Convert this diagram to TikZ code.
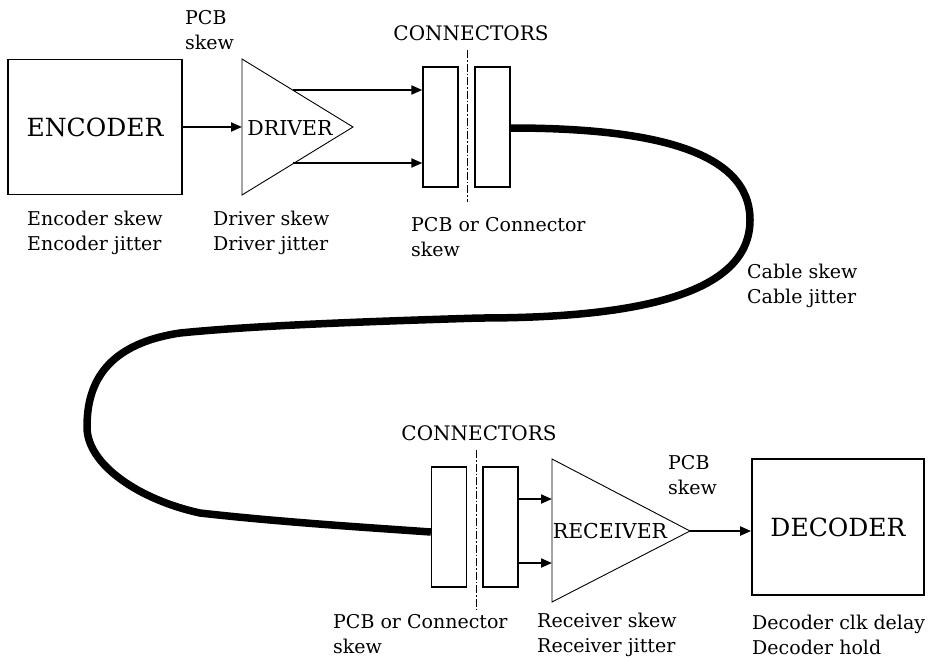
\documentclass[tikz,border=0pt]{standalone}
\usepackage{fontspec}
\setmainfont{DejaVu Serif}
\usetikzlibrary{arrows.meta}
\begin{document}
\begin{tikzpicture}[x=1pt,y=-1pt,
  blk/.style={draw,line width=1.8pt,inner sep=0pt,font=\fontsize{25}{28}\selectfont},
  conbox/.style={draw,line width=1.3pt,inner sep=0pt,minimum width=35pt,minimum height=120pt},
  amp/.style={draw,line width=0.9pt},
  arr/.style={line width=2pt,-{Triangle[length=11pt,width=9pt]}},
  axisline/.style={line width=0.8pt,dash pattern=on 8pt off 2pt on 1.5pt off 2pt},
  cable/.style={line width=7.5pt},
  lbl/.style={inner sep=0pt,align=left,anchor=west,font=\fontsize{19}{25}\selectfont},
  hdr/.style={inner sep=0pt,font=\fontsize{20}{24}\selectfont},
  big/.style={inner sep=0pt,font=\fontsize{20.5}{24}\selectfont}]
\useasboundingbox (0,0) rectangle (928,659);
% top chain
\node[blk,minimum width=174pt,minimum height=135pt] (enc) at (95,127) {ENCODER};
\coordinate (dA) at (242,59); \coordinate (dB) at (242,195); \coordinate (dC) at (353,127);
\draw[amp] (dA) -- (dC) -- (dB) -- cycle;
\node[big] (drvtxt) at (290,128) {DRIVER};
\coordinate (dIn) at (242,127);
\draw[arr] (enc.east) -- (enc.east -| dIn);
\node[conbox] (c1) at (440.5,127) {};
\node[conbox] (c2) at (492.5,127) {};
\coordinate (o1) at (293,90); \coordinate (o2) at (293,163);
\draw[arr] (o1) -- (c1.west |- o1);
\draw[arr] (o2) -- (c1.west |- o2);
\coordinate (ax1t) at (467,50); \coordinate (ax1b) at (467,202);
\draw[axisline] (ax1t) -- (ax1b);
% bottom chain
\node[conbox] (c3) at (449,527) {};
\node[conbox] (c4) at (500.5,527) {};
\coordinate (ax2t) at (476,450); \coordinate (ax2b) at (476,609);
\draw[axisline] (ax2t) -- (ax2b);
\coordinate (rA) at (552,459); \coordinate (rB) at (552,602); \coordinate (rC) at (690,531);
\draw[amp] (rA) -- (rC) -- (rB) -- cycle;
\node[big] (rcvtxt) at (610,531) {RECEIVER};
\coordinate (i1) at (552,499); \coordinate (i2) at (552,563);
\draw[arr] (c4.east |- i1) -- (i1);
\draw[arr] (c4.east |- i2) -- (i2);
\node[blk,minimum width=172pt,minimum height=136pt] (dec) at (838,527) {DECODER};
\draw[arr] (rC) -- (dec.west |- rC);
% cable
\coordinate (cs) at (c2.east |- 0,128);
\coordinate (ce) at (c3.west |- 0,532);
\draw[cable] (cs) .. controls (650,128) and (750,150) .. (750,220)
  .. controls (750,290) and (650,318) .. (480,318)
  .. controls (350,322) and (250,326) .. (180,333)
  .. controls (100,345) and (87,390) .. (87,427)
  .. controls (87,465) and (140,500) .. (200,513)
  .. controls (280,522) and (360,527) .. (ce);
% labels
\node[lbl] (l1) at (185,30.5) {PCB\\skew};
\node[lbl] (l2) at (27,232.5) {Encoder skew\\Encoder jitter};
\node[lbl] (l3) at (213,232.5) {Driver skew\\Driver jitter};
\node[lbl] (l4) at (411,237) {PCB or Connector\\skew};
\node[hdr] (l5) at (471,33) {CONNECTORS};
\node[lbl] (l6) at (747,286) {Cable skew\\Cable jitter};
\node[hdr] (l7) at (479,433) {CONNECTORS};
\node[lbl] (l8) at (333,634.5) {PCB or Connector\\skew};
\node[lbl] (l9) at (537,634.5) {Receiver skew\\Receiver jitter};
\node[lbl] (l10) at (668,475.5) {PCB\\skew};
\node[lbl] (l11) at (752,634.5) {Decoder clk delay\\Decoder hold};
\end{tikzpicture}
\end{document}
